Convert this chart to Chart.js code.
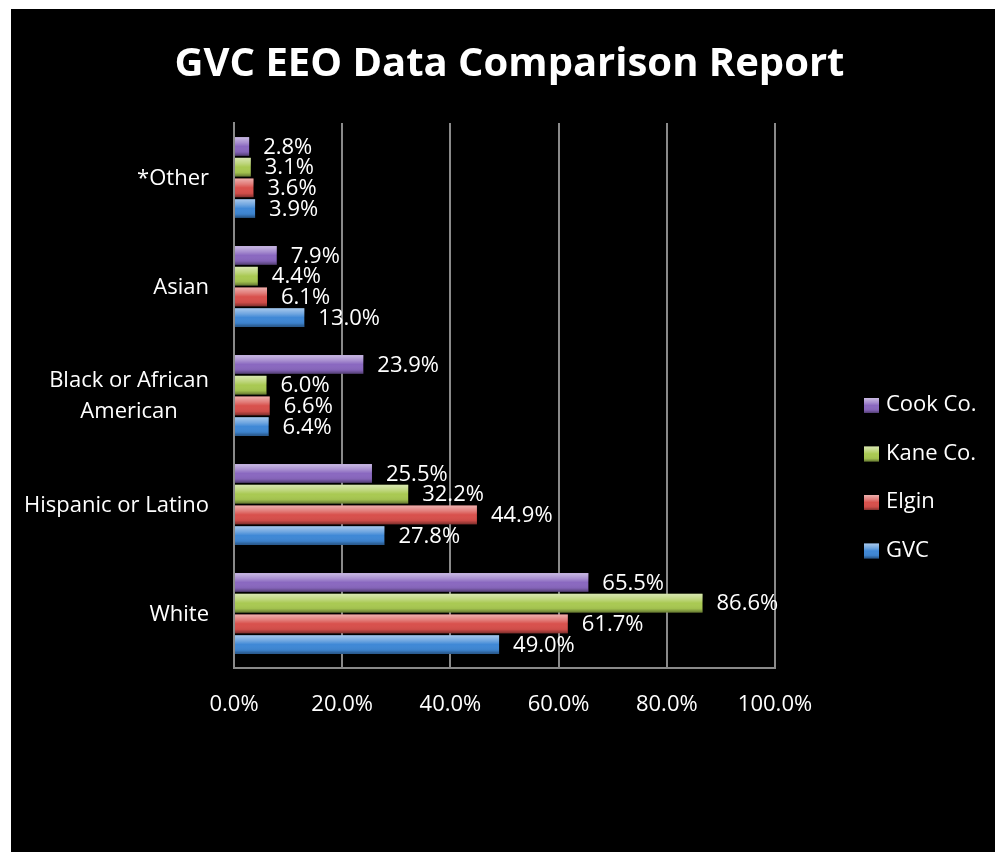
<!DOCTYPE html>
<html>
<head>
<meta charset="utf-8">
<title>GVC EEO Data Comparison Report</title>
<script src="https://cdn.jsdelivr.net/npm/chart.js@4.4.1/dist/chart.umd.min.js"></script>
<style>
  body { margin: 0; background: #fff; }
  #wrap { position: absolute; left: 11px; top: 9px; width: 984px; height: 843px; background: #000; }
</style>
</head>
<body>
<div id="wrap"><canvas id="myChart"></canvas></div>
<script>
// categories, top to bottom
const categories = [['*Other'], ['Asian'], ['Black or African', 'American'], ['Hispanic or Latino'], ['White']];
const seriesNames = ['Cook Co.', 'Kane Co.', 'Elgin', 'GVC'];
const cook = [2.8, 7.9, 23.9, 25.5, 65.5];
const kane = [3.1, 4.4, 6.0, 32.2, 86.6];
const elgin = [3.6, 6.1, 6.6, 44.9, 61.7];
const gvc = [3.9, 13.0, 6.4, 27.8, 49.0];
const xTicks = [0, 20, 40, 60, 80, 100];

const colors = ['#8a68c0', '#a9c952', '#d8504c', '#3f88d6'];
const font = "'Open Sans', sans-serif";

// shading on each bar to get the bevelled look
function shade(ctx, x0, x1, y, h) {
  const g = ctx.createLinearGradient(0, y - h / 2, 0, y + h / 2);
  g.addColorStop(0, 'rgba(255,255,255,0.55)');
  g.addColorStop(0.3, 'rgba(255,255,255,0.25)');
  g.addColorStop(0.5, 'rgba(255,255,255,0)');
  g.addColorStop(0.8, 'rgba(0,0,0,0.05)');
  g.addColorStop(1, 'rgba(0,0,0,0.4)');
  ctx.fillStyle = g;
  ctx.fillRect(x0, y - h / 2, x1 - x0, h);
}

const extras = {
  id: 'extras',
  afterDatasetsDraw(chart) {
    const ctx = chart.ctx;
    ctx.save();
    chart.data.datasets.forEach((ds, i) => {
      chart.getDatasetMeta(i).data.forEach((bar, j) => {
        const p = bar.getProps(['x', 'y', 'base', 'height'], true);
        shade(ctx, p.base, p.x, p.y, p.height);
        ctx.fillStyle = '#fff';
        ctx.font = '22px ' + font;
        ctx.textAlign = 'left';
        ctx.textBaseline = 'middle';
        ctx.fillText(ds.data[j].toFixed(1) + '%', p.x + 14, p.y + 1);
      });
    });
    ctx.restore();
  },
  afterDraw(chart) {
    const ctx = chart.ctx;
    const y = chart.scales.y;
    ctx.save();
    ctx.fillStyle = '#fff';
    ctx.font = '22px ' + font;
    ctx.textBaseline = 'middle';
    ctx.textAlign = 'center';
    categories.forEach((lines, i) => {
      const yc = y.getPixelForValue(i) + 1;
      const w = Math.max(...lines.map(l => ctx.measureText(l).width));
      const cx = 198 - w / 2;
      lines.forEach((l, k) => {
        ctx.fillText(l, cx, yc + (k - (lines.length - 1) / 2) * 31);
      });
    });
    // legend
    chart.data.datasets.forEach((ds, i) => {
      const yc = 396 + i * 48.5;
      ctx.fillStyle = ds.backgroundColor;
      ctx.fillRect(853, yc - 7, 15, 15);
      shade(ctx, 853, 868, yc + 0.5, 15);
      ctx.fillStyle = '#fff';
      ctx.textAlign = 'left';
      ctx.fillText(ds.label, 875, yc);
    });
    ctx.restore();
  }
};

const ctx = document.getElementById('myChart');
new Chart(ctx, {
  type: 'bar',
  data: {
    labels: categories,
    datasets: [cook, kane, elgin, gvc].map((d, i) => ({
      label: seriesNames[i],
      data: d,
      backgroundColor: colors[i],
      xAxisID: 'x',
      yAxisID: 'y',
      categoryPercentage: 0.76,
      barPercentage: 0.9
    }))
  },
  options: {
    indexAxis: 'y',
    responsive: true,
    maintainAspectRatio: false,
    animation: false,
    layout: { padding: { left: 13, top: 32, right: 0, bottom: 0 } },
    plugins: {
      legend: { display: false },
      tooltip: { enabled: false },
      title: {
        display: true,
        text: 'GVC EEO Data Comparison Report',
        color: '#fff',
        font: { family: font, size: 40, weight: 'bold', lineHeight: 1.2 },
        padding: { top: 0, bottom: 34 }
      }
    },
    scales: {
      x: {
        min: 0,
        max: 100,
        afterBuildTicks: s => { s.ticks = xTicks.map(v => ({ value: v })); },
        afterFit: s => { s.height = 184; },
        ticks: {
          color: '#fff',
          font: { family: font, size: 22 },
          padding: 24,
          callback: v => v.toFixed(1) + '%'
        },
        grid: { color: '#8a8a8a', lineWidth: 2, drawTicks: false },
        border: { color: '#8a8a8a', width: 2 }
      },
      y: {
        afterFit: s => { s.width = 210; },
        ticks: { display: false },
        grid: { display: false },
        border: { color: '#8a8a8a', width: 2 }
      },
      y2: {
        type: 'linear',
        position: 'right',
        afterFit: s => { s.width = 220; },
        ticks: { display: false },
        grid: { display: false },
        border: { display: false }
      }
    }
  },
  plugins: [extras]
});
</script>
</body>
</html>
